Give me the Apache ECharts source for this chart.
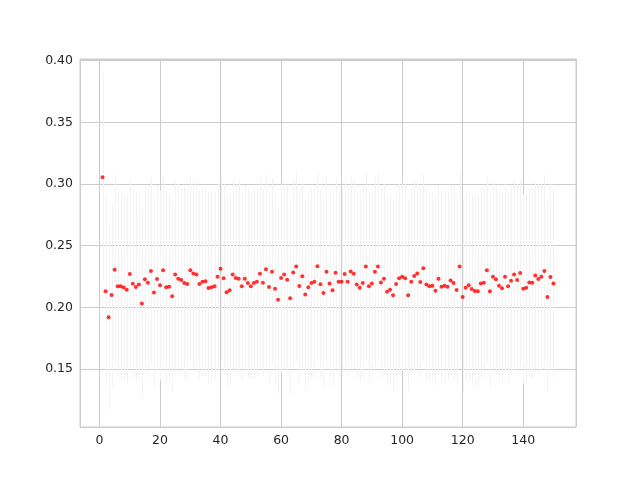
<!DOCTYPE html>
<html>
<head>
<meta charset="utf-8">
<script src="https://cdn.jsdelivr.net/npm/echarts@6/dist/echarts.min.js"></script>
<style>
  html, body { margin: 0; padding: 0; background: #fff; }
  #chart { width: 640px; height: 480px; }
</style>
</head>
<body>
<div id="chart"></div>
<script>
// mean value per run (runs numbered 1..150)
var means = [
  0.3055, 0.213, 0.192, 0.210, 0.2305, 0.217, 0.217, 0.216, 0.2143, 0.227,
  0.219, 0.2165, 0.2184, 0.203, 0.2227, 0.220, 0.2294, 0.212, 0.223, 0.2178,
  0.230, 0.2162, 0.2167, 0.209, 0.2265, 0.2232, 0.2221, 0.2197, 0.2189, 0.230,
  0.2275, 0.2267, 0.2189, 0.2208, 0.2211, 0.2156, 0.2162, 0.217, 0.2248, 0.2313,
  0.2235, 0.2121, 0.2138, 0.2265, 0.2238, 0.2232, 0.217, 0.2232, 0.2197, 0.217,
  0.2197, 0.2208, 0.2273, 0.220, 0.2308, 0.2165, 0.2289, 0.2151, 0.2062, 0.2238,
  0.2265, 0.2224, 0.2073, 0.2283, 0.233, 0.2173, 0.2251, 0.2103, 0.2162, 0.2197,
  0.2208, 0.2332, 0.2186, 0.2116, 0.2289, 0.2192, 0.2138, 0.2281, 0.2208, 0.2208,
  0.227, 0.2208, 0.2291, 0.2273, 0.2184, 0.2159, 0.2197, 0.233, 0.217, 0.2194,
  0.2289, 0.233, 0.2202, 0.2232, 0.2127, 0.2143, 0.2097, 0.2189, 0.2235, 0.2248,
  0.2235, 0.2097, 0.2208, 0.2254, 0.2275, 0.2205, 0.2316, 0.2184, 0.217, 0.2175,
  0.2135, 0.2232, 0.2167, 0.2175, 0.2167, 0.2217, 0.2197, 0.214, 0.233, 0.2083,
  0.2159, 0.2178, 0.2148, 0.2132, 0.213, 0.2194, 0.220, 0.230, 0.213, 0.2248,
  0.2227, 0.2175, 0.2154, 0.2248, 0.217, 0.2216, 0.2265, 0.2221, 0.2278, 0.2151,
  0.2159, 0.2202, 0.220, 0.2257, 0.2230, 0.2248, 0.2294, 0.2083, 0.2245, 0.2194
];
// half length of the error bar for each run
var errs = [
  0.084, 0.077, 0.075, 0.075, 0.077, 0.076, 0.076, 0.076, 0.077, 0.076,
  0.077, 0.077, 0.076, 0.076, 0.076, 0.077, 0.076, 0.077, 0.076, 0.077,
  0.076, 0.078, 0.076, 0.077, 0.076, 0.077, 0.076, 0.077, 0.078, 0.076,
  0.076, 0.075, 0.077, 0.077, 0.076, 0.078, 0.077, 0.076, 0.077, 0.076,
  0.077, 0.078, 0.076, 0.077, 0.076, 0.078, 0.077, 0.076, 0.077, 0.076,
  0.078, 0.076, 0.077, 0.076, 0.077, 0.078, 0.076, 0.077, 0.078, 0.076,
  0.077, 0.076, 0.078, 0.076, 0.077, 0.078, 0.076, 0.077, 0.076, 0.077,
  0.078, 0.077, 0.076, 0.077, 0.076, 0.077, 0.078, 0.076, 0.077, 0.076,
  0.077, 0.076, 0.078, 0.077, 0.076, 0.077, 0.078, 0.076, 0.077, 0.076,
  0.077, 0.076, 0.078, 0.077, 0.076, 0.077, 0.078, 0.076, 0.077, 0.076,
  0.077, 0.078, 0.076, 0.077, 0.076, 0.077, 0.076, 0.078, 0.077, 0.076,
  0.077, 0.076, 0.078, 0.077, 0.076, 0.077, 0.078, 0.076, 0.077, 0.078,
  0.076, 0.077, 0.076, 0.078, 0.077, 0.076, 0.077, 0.076, 0.078, 0.077,
  0.076, 0.077, 0.078, 0.076, 0.077, 0.076, 0.077, 0.078, 0.076, 0.077,
  0.076, 0.077, 0.078, 0.076, 0.077, 0.076, 0.078, 0.077, 0.076, 0.077
];
var xTicks = [0, 20, 40, 60, 80, 100, 120, 140];
var yTicks = ['0.15', '0.20', '0.25', '0.30', '0.35', '0.40'];

var points = []
var bars = []
for (var i = 0; i < means.length; i++) {
  points.push([i + 1, means[i]])
  bars.push([i + 1, means[i] - errs[i], means[i] + errs[i]])
}

var gridColor = '#cccccc'
var labelStyle = { color: '#262626', fontSize: 12.5, fontFamily: 'DejaVu Sans' }

var chart = echarts.init(document.getElementById('chart'), null, { renderer: 'canvas' })
chart.setOption({
  animation: false,
  backgroundColor: '#ffffff',
  grid: { left: 80, right: 64, top: 59, bottom: 53, show: true, borderColor: gridColor, borderWidth: 1 },
  xAxis: {
    type: 'value',
    min: -6.45,
    max: 157.45,
    splitNumber: 8,
    axisLine: { show: false },
    axisTick: { show: false },
    splitLine: { show: true, lineStyle: { color: gridColor, width: 1 } },
    axisLabel: Object.assign({
      margin: 7,
      formatter: function (v) {
        return xTicks.indexOf(Math.round(v)) >= 0 && Math.abs(v - Math.round(v)) < 1e-6 ? String(Math.round(v)) : ''
      }
    }, labelStyle)
  },
  yAxis: {
    type: 'value',
    min: 0.1029,
    max: 0.4014,
    splitNumber: 6,
    axisLine: { show: false },
    axisTick: { show: false },
    splitLine: { show: true, lineStyle: { color: gridColor, width: 1 } },
    axisLabel: Object.assign({
      margin: 7,
      formatter: function (v) {
        var s = v.toFixed(2)
        return yTicks.indexOf(s) >= 0 && Math.abs(v - parseFloat(s)) < 1e-6 ? s : ''
      }
    }, labelStyle)
  },
  series: [
    {
      type: 'custom',
      name: 'err',
      silent: true,
      clip: true,
      data: bars,
      encode: { x: 0, y: [1, 2] },
      renderItem: function (params, api) {
        var lo = api.coord([api.value(0), api.value(1)])
        var hi = api.coord([api.value(0), api.value(2)])
        var x = Math.round(lo[0]) + 0.5
        return {
          type: 'line',
          shape: { x1: x, y1: lo[1], x2: x, y2: hi[1] },
          style: { stroke: '#f3f3f3', lineWidth: 1 }
        }
      },
      z: 1
    },
    {
      type: 'scatter',
      name: 'mean',
      data: points,
      symbol: 'circle',
      symbolSize: 4,
      itemStyle: { color: '#ff0000' },
      z: 3
    }
  ]
})
</script>
</body>
</html>
